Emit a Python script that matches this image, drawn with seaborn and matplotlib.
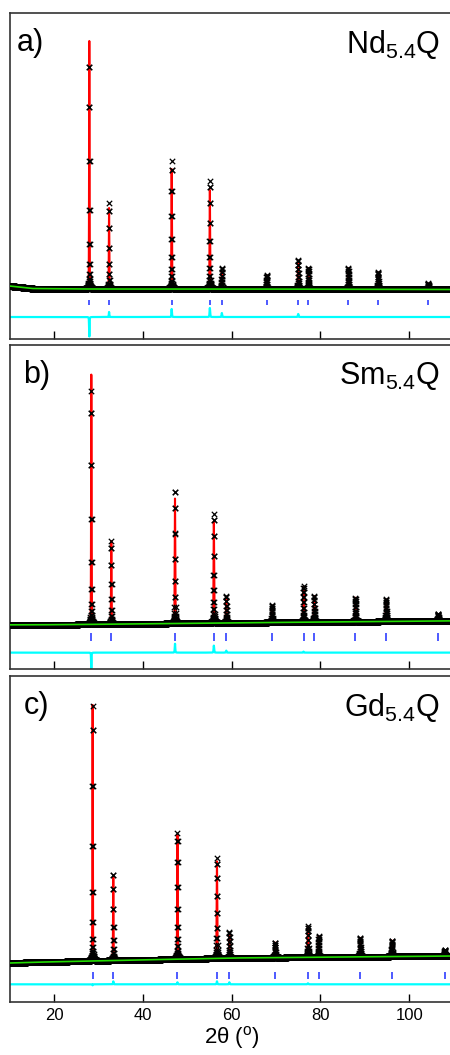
import numpy as np
import matplotlib
matplotlib.use("Agg")
import matplotlib.pyplot as plt
import seaborn as sns

# ---------------- data ----------------
# Bragg reflection positions (2theta, deg)
pos_nd = [27.95, 32.40, 46.50, 55.10, 57.80, 67.90, 75.00, 77.30, 86.30, 93.00, 104.30]
pos_sm = [28.40, 32.90, 47.25, 56.00, 58.80, 69.10, 76.20, 78.60, 87.90, 94.80, 106.50]
pos_gd = [28.70, 33.35, 47.80, 56.70, 59.50, 69.80, 77.20, 79.60, 88.95, 96.10, 108.00]

# calculated peak heights (arb. units above background)
calc_nd = [248, 81, 120, 99, 17, 14, 26, 21, 21, 17, 6]
calc_sm = [250, 83, 125, 102, 25, 17, 35, 26, 24, 22, 7]
calc_gd = [256, 84, 124, 97, 24, 15, 30, 21, 19, 16, 6]

# observed peak heights
obs_nd = [228, 86, 128, 108, 21, 14, 29, 21, 21, 17, 6]
obs_sm = [234, 83, 134, 109, 27, 17, 36, 26, 24, 22, 7]
obs_gd = [255, 87, 126, 100, 26, 15, 31, 21, 19, 16, 6]

# background control points
bg_x = [10, 15, 25, 60, 110]
bg_nd = [3.0, 0.5, 0.0, 0.0, -0.5]
bg_sm = [-1.5, -1.5, -1.2, 0.5, 2.5]
bg_gd = [-2.7, -2.0, -1.0, 2.3, 4.3]

labels = ["a)", "b)", "c)"]
samples = ["Nd$_{\\mathregular{5.4}}$Q", "Sm$_{\\mathregular{5.4}}$Q", "Gd$_{\\mathregular{5.4}}$Q"]
xticks = [20, 40, 60, 80, 100]

# ---------------- style ----------------
sns.set_style("white")
plt.rcParams["font.family"] = ["Liberation Sans", "DejaVu Sans"]
plt.rcParams["mathtext.fontset"] = "custom"
plt.rcParams["mathtext.rm"] = "Liberation Sans"
plt.rcParams["mathtext.it"] = "Liberation Sans:italic"
plt.rcParams["text.color"] = "black"
plt.rcParams["axes.labelcolor"] = "black"

fig = plt.figure(figsize=(4.5, 10.55), dpi=100)
W, H = 450.0, 1055.0
left_px, width_px = 9.6, 444.0
panels = [
    # top_px, bottom_px, ylim, bragg (lo, hi), diff offset
    (13, 339, (-50, 276), (-16, -11), -28.0),
    (345, 669, (-45.7, 278.6), (-18, -10), -29.3),
    (676, 1002, (-41.7, 284.3), (-18.3, -11.7), -24.0),
]
datasets = [
    (pos_nd, calc_nd, obs_nd, bg_nd),
    (pos_sm, calc_sm, obs_sm, bg_sm),
    (pos_gd, calc_gd, obs_gd, bg_gd),
]
label_x = [0.017, 0.031, 0.031]


def profile(x, pos, heights):
    y = np.zeros_like(x)
    eta = 0.35
    for p, h in zip(pos, heights):
        fw = 0.10 + 0.0013 * (p - 20)
        s = fw / 2.3548
        g = np.exp(-0.5 * ((x - p) / s) ** 2)
        l = 1.0 / (1.0 + ((x - p) / (fw / 2)) ** 2)
        y += h * ((1 - eta) * g + eta * l)
    return y


x_obs = np.arange(10.0, 110.0, 0.02)
x_fine = np.arange(10.0, 110.0, 0.005)

for i, ((top, bot, ylim, bragg, doff), (pos, calc, obs, bg)) in enumerate(zip(panels, datasets)):
    ax = fig.add_axes([left_px / W, 1 - bot / H, width_px / W, (bot - top) / H])
    bgo = np.interp(x_obs, bg_x, bg)
    bgf = np.interp(x_fine, bg_x, bg)
    y_calc_f = bgf + profile(x_fine, pos, calc)
    y_calc_o = bgo + profile(x_obs, pos, calc)
    y_obs = bgo + profile(x_obs, pos, obs)
    diff = y_obs - y_calc_o + doff

    sns.lineplot(x=x_fine, y=y_calc_f, ax=ax, color="#ff0000", lw=1.5,
                 estimator=None, sort=False, zorder=2)
    sns.scatterplot(x=x_obs, y=y_obs, ax=ax, color="black", marker="x", s=15,
                    linewidth=0.9, zorder=3)
    sns.lineplot(x=x_fine, y=bgf, ax=ax, color="#22dd00", lw=1.2,
                 estimator=None, sort=False, zorder=4)
    ax.vlines(pos, bragg[0], bragg[1], color="#2f3dff", lw=1.2, zorder=2)
    sns.lineplot(x=x_obs, y=diff, ax=ax, color="#00ffff", lw=1.6,
                 estimator=None, sort=False, zorder=2)

    ax.set_xlim(10, 110)
    ax.set_ylim(*ylim)
    ax.set_yticks([])
    ax.set_xticks(xticks)
    ax.tick_params(axis="x", direction="in", length=6, width=1, bottom=True,
                   top=False, labelsize=12, pad=4, colors="black")
    for sp in ax.spines.values():
        sp.set_color("#333333")
        sp.set_linewidth(1.2)
    if i < 2:
        ax.set_xticklabels([])
        ax.set_xlabel("")
    else:
        ax.set_xlabel("2\u03b8 ($^{\\mathregular{o}}$)", fontsize=16, labelpad=1,
                      color="black")
    ax.set_ylabel("")
    ax.text(label_x[i], 0.955, labels[i], transform=ax.transAxes, ha="left",
            va="top", fontsize=22, color="black")
    ax.text(0.969, 0.955, samples[i], transform=ax.transAxes, ha="right",
            va="top", fontsize=22, color="black")

fig.savefig("out.png", dpi=100)
